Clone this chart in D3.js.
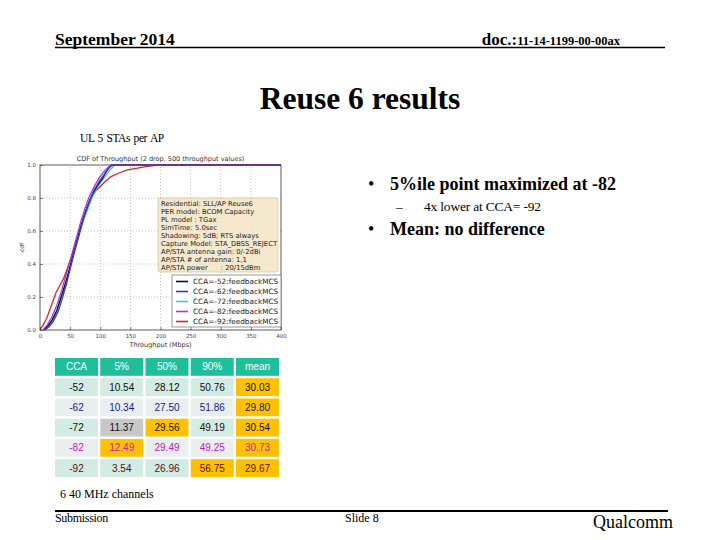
<!DOCTYPE html>
<html>
<head>
<meta charset="utf-8">
<script src="https://cdn.jsdelivr.net/npm/d3@7"></script>
<style>
  body { margin: 0; background: #fff; }
  svg { display: block; }
</style>
</head>
<body>
<div id="slide"></div>
<script>
// CDF points: [throughput Mbps, cdf]
const cca52 = [[6,0],[12,0.02],[20,0.06],[28,0.12],[35,0.2],[42,0.28],[48,0.36],[54,0.44],[60,0.52],[66,0.6],[72,0.68],[80,0.76],[88,0.83],[96,0.88],[104,0.92],[110,0.96],[116,0.99],[120,1.0],[400,1.0]];
const cca62 = [[8,0],[15,0.02],[22,0.05],[30,0.11],[37,0.19],[44,0.28],[50,0.37],[56,0.46],[62,0.54],[68,0.62],[74,0.7],[82,0.78],[90,0.85],[98,0.9],[106,0.94],[113,0.98],[120,1.0],[400,1.0]];
const cca72 = [[7,0],[14,0.02],[22,0.06],[30,0.13],[38,0.22],[45,0.31],[52,0.4],[58,0.48],[64,0.56],[70,0.64],[78,0.72],[86,0.8],[96,0.87],[106,0.92],[116,0.97],[124,1.0],[400,1.0]];
const cca82 = [[5,0],[12,0.03],[20,0.08],[28,0.15],[36,0.24],[43,0.33],[50,0.42],[56,0.5],[62,0.58],[68,0.66],[75,0.74],[82,0.81],[90,0.87],[98,0.92],[106,0.96],[114,0.99],[118,1.0],[400,1.0]];
const cca92 = [[0,0],[5,0.03],[11,0.07],[16,0.12],[22,0.18],[27,0.23],[33,0.27],[39,0.31],[45,0.37],[50,0.42],[56,0.48],[62,0.55],[68,0.63],[74,0.7],[80,0.76],[86,0.81],[92,0.84],[100,0.87],[108,0.9],[118,0.93],[130,0.95],[145,0.97],[160,0.98],[175,0.99],[195,1.0],[400,1.0]];

const seriesNames = ["CCA=-52:feedbackMCS","CCA=-62:feedbackMCS","CCA=-72:feedbackMCS","CCA=-82:feedbackMCS","CCA=-92:feedbackMCS"];
const seriesColors = ["#111111","#3a3ad0","#40c8c8","#a838d0","#d02828"];
const xTicks = [0,50,100,150,200,250,300,350,400];
const yTicks = [0,0.2,0.4,0.6,0.8,1.0];

const infoLines = [
  "Residential: SLL/AP Reuse6",
  "PER model: BCOM Capacity",
  "PL model : TGax",
  "SimTime: 5.0sec",
  "Shadowing: 5dB; RTS always",
  "Capture Model: STA_DBSS_REJECT",
  "AP/STA antenna gain: 0/-2dBi",
  "AP/STA # of antenna: 1,1",
  "AP/STA power      : 20/15dBm"
];

// table
const tableHeader = ["CCA","5%","50%","90%","mean"];
const tableCCA = ["-52","-62","-72","-82","-92"];
const tableP5 = ["10.54","10.34","11.37","12.49","3.54"];
const tableP50 = ["28.12","27.50","29.56","29.49","26.96"];
const tableP90 = ["50.76","51.86","49.19","49.25","56.75"];
const tableMean = ["30.03","29.80","30.54","30.73","29.67"];
const rowText = ["#111111","#1a1a8a","#111111","#c020c0","#5a1010"];
const rowFill = ["#d2ebe3","#e9eeee","#d2ebe3","#e9eeee","#d2ebe3"];
// highlighted cells [row, col, colour]
const highlights = [[2,1,"#c8c8c8"],[3,1,"#ffc000"],[2,2,"#ffc000"],[4,3,"#ffc000"],
  [0,4,"#ffc000"],[1,4,"#ffc000"],[2,4,"#ffc000"],[3,4,"#ffc000"],[4,4,"#ffc000"]];

const svg = d3.select("#slide").append("svg")
  .attr("width", 720).attr("height", 540);

svg.append("rect").attr("width", 720).attr("height", 540).attr("fill", "#fff");

const serif = "'Liberation Serif', 'Times New Roman', serif";

// header
svg.append("text").attr("x", 55).attr("y", 45)
  .attr("font-family", serif).attr("font-weight", "bold").attr("font-size", 17.5)
  .text("September 2014");
const doc = svg.append("text").attr("x", 620).attr("y", 45).attr("text-anchor", "end")
  .attr("font-family", serif).attr("font-weight", "bold");
doc.append("tspan").attr("font-size", 17).text("doc.:");
doc.append("tspan").attr("font-size", 12.5).text("11-14-1199-00-00ax");
svg.append("line").attr("x1", 55).attr("x2", 665).attr("y1", 47.5).attr("y2", 47.5)
  .attr("stroke", "#000").attr("stroke-width", 1.5);

svg.append("text").attr("x", 360).attr("y", 109).attr("text-anchor", "middle")
  .attr("font-family", serif).attr("font-weight", "bold").attr("font-size", 31.5)
  .text("Reuse 6 results");

svg.append("text").attr("x", 80).attr("y", 142)
  .attr("font-family", serif).attr("font-size", 11.5).attr("letter-spacing", -0.4)
  .attr("word-spacing", 1)
  .text("UL 5 STAs per AP");

// bullets
const bullets = svg.append("g").attr("font-family", serif);
bullets.append("text").attr("x", 368).attr("y", 190).attr("font-size", 18).text("•");
bullets.append("text").attr("x", 390).attr("y", 190).attr("font-size", 18).attr("font-weight", "bold")
  .text("5%ile point maximized at -82");
bullets.append("text").attr("x", 396).attr("y", 211).attr("font-size", 13.5).text("–");
bullets.append("text").attr("x", 424).attr("y", 211).attr("font-size", 13.5).attr("letter-spacing", -0.2)
  .text("4x lower at CCA= -92");
bullets.append("text").attr("x", 368).attr("y", 235).attr("font-size", 18).text("•");
bullets.append("text").attr("x", 390).attr("y", 235).attr("font-size", 18).attr("font-weight", "bold")
  .text("Mean: no difference");

// chart
const x = d3.scaleLinear().domain([0, 400]).range([40, 281]);
const y = d3.scaleLinear().domain([0, 1]).range([330, 165]);
const sans = "'DejaVu Sans', sans-serif";
const chart = svg.append("g").attr("font-family", sans);

chart.append("text").attr("x", (x(0) + x(400)) / 2).attr("y", 161).attr("text-anchor", "middle")
  .attr("font-size", 6.5).attr("fill", "#333")
  .text("CDF of Throughput (2 drop, 500 throughput values)");

const grid = chart.append("g").attr("stroke", "#999").attr("stroke-width", 0.6).attr("stroke-dasharray", "1,2");
grid.selectAll(".gx").data(xTicks.slice(1, -1)).join("line")
  .attr("x1", d => x(d)).attr("x2", d => x(d)).attr("y1", y(0)).attr("y2", y(1));
grid.selectAll(".gy").data(yTicks.slice(1, -1)).join("line")
  .attr("x1", x(0)).attr("x2", x(400)).attr("y1", d => y(d)).attr("y2", d => y(d));

const line = d3.line().x(d => x(d[0])).y(d => y(d[1]));
const series = [cca52, cca62, cca72, cca82, cca92];
// red underneath, purple on top as in the picture
const order = [4, 2, 0, 1, 3];
chart.append("g").selectAll("path").data(order).join("path")
  .attr("d", i => line(series[i]))
  .attr("fill", "none")
  .attr("stroke", i => seriesColors[i])
  .attr("stroke-width", 1.3);

chart.append("rect").attr("x", x(0)).attr("y", y(1))
  .attr("width", x(400) - x(0)).attr("height", y(0) - y(1))
  .attr("fill", "none").attr("stroke", "#333").attr("stroke-width", 0.8);

const xAxis = chart.append("g").attr("transform", `translate(0,${y(0)})`)
  .call(d3.axisBottom(x).tickValues(xTicks).tickSize(-3).tickPadding(4).tickFormat(d3.format("d")));
const yAxis = chart.append("g").attr("transform", `translate(${x(0)},0)`)
  .call(d3.axisLeft(y).tickValues(yTicks).tickSize(-3).tickPadding(4).tickFormat(d3.format(".1f")));
[xAxis, yAxis].forEach(a => {
  a.select(".domain").remove();
  a.selectAll(".tick line").attr("stroke", "#333").attr("stroke-width", 0.6);
  a.selectAll(".tick text").attr("font-size", 5.5).attr("fill", "#444").attr("font-family", sans);
});

chart.append("text").attr("x", (x(0) + x(400)) / 2).attr("y", 347).attr("text-anchor", "middle")
  .attr("font-size", 6.5).attr("fill", "#333").text("Throughput (Mbps)");
chart.append("text").attr("transform", `translate(24,${y(0.5)}) rotate(-90)`).attr("text-anchor", "middle")
  .attr("font-size", 6).attr("fill", "#333").text("cdf");

// info box
const info = chart.append("g");
info.append("rect").attr("x", 158).attr("y", 198).attr("width", 120).attr("height", 74).attr("rx", 2)
  .attr("fill", "#f5e6c8").attr("fill-opacity", 0.9).attr("stroke", "#c9b994").attr("stroke-width", 0.6);
info.selectAll("text").data(infoLines).join("text")
  .attr("x", 161).attr("y", (d, i) => 205.5 + i * 8.1)
  .attr("font-size", 6.8).attr("fill", "#222")
  .attr("xml:space", "preserve")
  .text(d => d);

// legend
const leg = chart.append("g");
leg.append("rect").attr("x", 172).attr("y", 275).attr("width", 109).attr("height", 52)
  .attr("fill", "#fff").attr("stroke", "#555").attr("stroke-width", 0.6);
const entries = leg.selectAll("g").data(seriesNames).join("g")
  .attr("transform", (d, i) => `translate(176,${281.5 + i * 10})`);
entries.append("line").attr("x1", 0).attr("x2", 12).attr("y1", 0).attr("y2", 0)
  .attr("stroke", (d, i) => seriesColors[i]).attr("stroke-width", 1.6);
entries.append("text").attr("x", 17).attr("y", 2.5).attr("font-size", 7.3).attr("fill", "#222").text(d => d);

// table
const cols = d3.scaleBand().domain(d3.range(5)).range([55, 279]).paddingInner(0.05);
const rows = d3.scaleBand().domain(d3.range(6)).range([358, 477]).paddingInner(0.12);
const body = [tableCCA, tableP5, tableP50, tableP90, tableMean];
const cells = [];
tableHeader.forEach((h, c) => cells.push({ r: 0, c, t: h, fill: "#1fbf9c", color: "#fff" }));
tableCCA.forEach((_, r) => {
  body.forEach((col, c) => {
    const h = highlights.find(d => d[0] === r && d[1] === c);
    cells.push({ r: r + 1, c, t: col[r], fill: h ? h[2] : rowFill[r], color: rowText[r] });
  });
});
const tbl = svg.append("g").attr("font-family", "'Liberation Sans', Arial, sans-serif");
const cg = tbl.selectAll("g").data(cells).join("g")
  .attr("transform", d => `translate(${cols(d.c)},${rows(d.r)})`);
cg.append("rect").attr("width", cols.bandwidth()).attr("height", rows.bandwidth())
  .attr("fill", d => d.fill);
cg.append("text").attr("x", cols.bandwidth() / 2).attr("y", rows.bandwidth() / 2 + 3.5)
  .attr("text-anchor", "middle").attr("font-size", 10)
  .attr("fill", d => d.color).text(d => d.t);

// footer
svg.append("text").attr("x", 60).attr("y", 498)
  .attr("font-family", serif).attr("font-size", 12)
  .text("6 40 MHz channels");
svg.append("line").attr("x1", 55).attr("x2", 668).attr("y1", 511).attr("y2", 511)
  .attr("stroke", "#000").attr("stroke-width", 2);
svg.append("text").attr("x", 55).attr("y", 522)
  .attr("font-family", serif).attr("font-size", 12).attr("letter-spacing", -0.3).text("Submission");
svg.append("text").attr("x", 345).attr("y", 522)
  .attr("font-family", serif).attr("font-size", 12).text("Slide 8");
svg.append("text").attr("x", 673).attr("y", 528).attr("text-anchor", "end")
  .attr("font-family", serif).attr("font-size", 18).text("Qualcomm");
</script>
</body>
</html>
